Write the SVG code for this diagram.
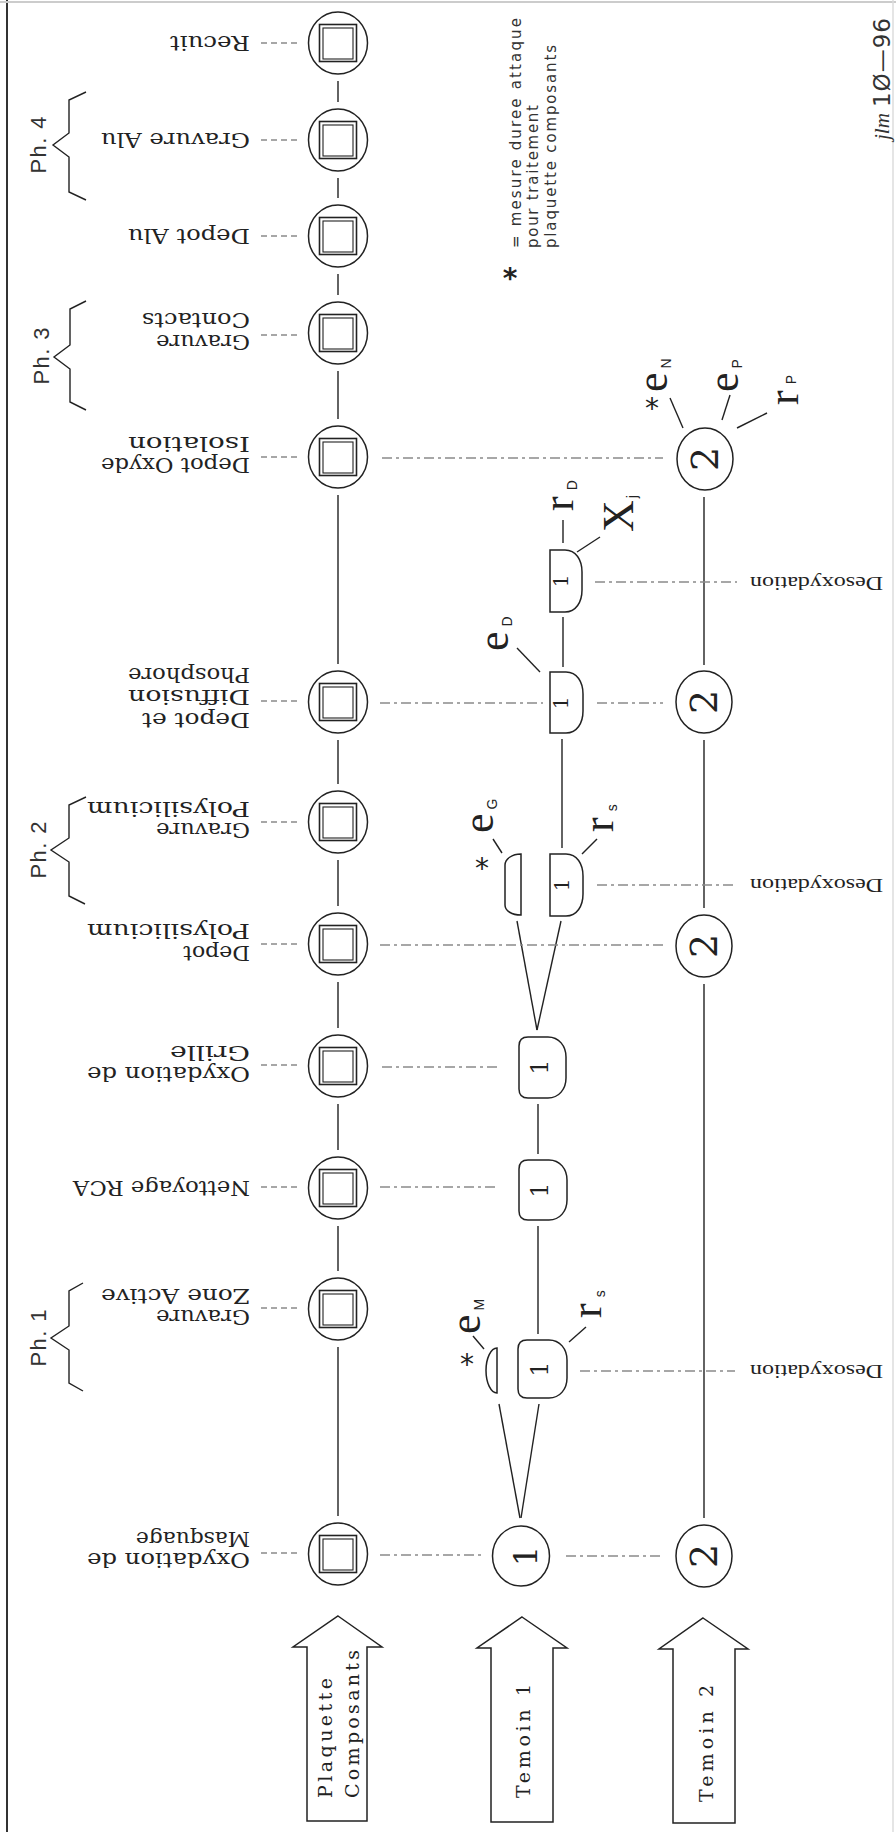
<svg xmlns="http://www.w3.org/2000/svg" width="896" height="1832" viewBox="0 0 896 1832">
<style>
.ln{stroke:#222;stroke-width:1.4;fill:none}
.dd{stroke:#8a8a8a;stroke-width:1.6;fill:none;stroke-dasharray:10 4 3 4}
.sd{stroke:#8a8a8a;stroke-width:1.6;fill:none;stroke-dasharray:6 4}
.nd{fill:#fff;stroke:#222;stroke-width:1.5}
.lbl{font-family:"DejaVu Serif",serif;font-size:20px;fill:#222}
.dsx{font-family:"Liberation Serif",serif;font-size:18px;fill:#222}
.arr{font-family:"DejaVu Serif",serif;font-size:19px;fill:#222}
.num{font-family:"DejaVu Serif",serif;fill:#222;text-anchor:middle}
.sym{font-family:"Liberation Serif",serif;font-size:44px;fill:#222}
.sub{font-family:"Liberation Sans",sans-serif;font-size:14px}
.ph{font-family:"Liberation Sans",sans-serif;font-size:22px;fill:#333;text-anchor:middle}
.ast{font-family:"DejaVu Sans",sans-serif;font-size:28px;fill:#222;text-anchor:middle}
.fn{font-family:"DejaVu Sans",sans-serif;font-size:15px;fill:#333}
</style>
<defs>
<g id="plq">
<ellipse rx="29.5" ry="31" class="nd"/>
<rect x="-18.5" y="-18.5" width="37" height="37" fill="none" stroke="#222" stroke-width="1.6"/>
<rect x="-15" y="-15" width="30" height="31" fill="none" stroke="#222" stroke-width="1.1"/>
</g>
</defs>
<rect width="896" height="1832" fill="#fff"/>
<g id="frame">
<line x1="7" y1="0" x2="7" y2="1832" stroke="#333" stroke-width="2"/>
<line x1="0" y1="2" x2="896" y2="2" stroke="#ccc" stroke-width="2"/>
<line x1="893" y1="0" x2="893" y2="1832" stroke="#ddd" stroke-width="1.5"/>
</g>

<g id="connectors">
<line class="ln" x1="338" y1="81" x2="338" y2="102"/>
<line class="ln" x1="338" y1="178" x2="338" y2="198"/>
<line class="ln" x1="338" y1="274" x2="338" y2="295"/>
<line class="ln" x1="338" y1="371" x2="338" y2="419"/>
<line class="ln" x1="338" y1="495" x2="338" y2="664"/>
<line class="ln" x1="338" y1="740" x2="338" y2="784"/>
<line class="ln" x1="338" y1="860" x2="338" y2="906"/>
<line class="ln" x1="338" y1="982" x2="338" y2="1028"/>
<line class="ln" x1="338" y1="1104" x2="338" y2="1150"/>
<line class="ln" x1="338" y1="1226" x2="338" y2="1271"/>
<line class="ln" x1="338" y1="1347" x2="338" y2="1516"/>
<line class="ln" x1="499" y1="1404" x2="520" y2="1518"/>
<line class="ln" x1="539" y1="1404" x2="521" y2="1518"/>
<line class="ln" x1="538" y1="1226" x2="538" y2="1334"/>
<line class="ln" x1="538" y1="1104" x2="538" y2="1154"/>
<line class="ln" x1="517" y1="921" x2="537" y2="1030"/>
<line class="ln" x1="561" y1="921" x2="537" y2="1030"/>
<line class="ln" x1="562" y1="739" x2="562" y2="848"/>
<line class="ln" x1="563" y1="617" x2="563" y2="667"/>
<line class="ln" x1="704" y1="984" x2="704" y2="1518"/>
<line class="ln" x1="704" y1="740" x2="704" y2="908"/>
<line class="ln" x1="704" y1="497" x2="704" y2="665"/>
<line class="dd" x1="380" y1="1555" x2="482" y2="1555"/>
<line class="dd" x1="566" y1="1556" x2="664" y2="1556"/>
<line class="dd" x1="380" y1="1187" x2="497" y2="1187"/>
<line class="dd" x1="382" y1="1067" x2="497" y2="1067"/>
<line class="dd" x1="380" y1="945" x2="664" y2="945"/>
<line class="dd" x1="380" y1="703" x2="543" y2="703"/>
<line class="dd" x1="597" y1="703" x2="663" y2="703"/>
<line class="dd" x1="382" y1="458" x2="663" y2="458"/>
<line class="dd" x1="580" y1="1371" x2="735" y2="1371"/>
<line class="dd" x1="597" y1="885" x2="737" y2="885"/>
<line class="dd" x1="595" y1="582" x2="737" y2="582"/>
<line class="sd" x1="261" y1="43" x2="298" y2="43"/>
<line class="sd" x1="261" y1="140" x2="298" y2="140"/>
<line class="sd" x1="261" y1="236" x2="298" y2="236"/>
<line class="sd" x1="261" y1="335" x2="298" y2="335"/>
<line class="sd" x1="261" y1="457" x2="298" y2="457"/>
<line class="sd" x1="261" y1="701" x2="298" y2="701"/>
<line class="sd" x1="261" y1="822" x2="298" y2="822"/>
<line class="sd" x1="261" y1="944" x2="298" y2="944"/>
<line class="sd" x1="261" y1="1065" x2="298" y2="1065"/>
<line class="sd" x1="261" y1="1187" x2="298" y2="1187"/>
<line class="sd" x1="261" y1="1308" x2="298" y2="1308"/>
<line class="sd" x1="261" y1="1553" x2="298" y2="1553"/>
<line class="ln" x1="473" y1="1336" x2="484" y2="1349"/>
<line class="ln" x1="569" y1="1342" x2="586" y2="1327"/>
<line class="ln" x1="493" y1="839" x2="502" y2="853"/>
<line class="ln" x1="582" y1="854" x2="597" y2="839"/>
<line class="ln" x1="540" y1="672" x2="517" y2="648"/>
<line class="ln" x1="563" y1="520" x2="563" y2="543"/>
<line class="ln" x1="577" y1="552" x2="600" y2="537"/>
<line class="ln" x1="683" y1="428" x2="670" y2="398"/>
<line class="ln" x1="722" y1="420" x2="730" y2="395"/>
<line class="ln" x1="737" y1="428" x2="767" y2="413"/>
</g>

<g id="ph4">
<path class="ln" d="M86,92 L69,100 L69,133 L53,145 L69,157 L69,192 L86,200"/>
<text class="ph" transform="translate(46,145) rotate(-90)" textLength="57">Ph. 4</text>
</g>
<g id="ph3">
<path class="ln" d="M86,301 L70,309 L70,345 L54,357 L70,369 L70,402 L86,410"/>
<text class="ph" transform="translate(49,356) rotate(-90)" textLength="57">Ph. 3</text>
</g>
<g id="ph2">
<path class="ln" d="M86,797 L69,805 L69,838 L51,850 L69,862 L69,896 L85,904"/>
<text class="ph" transform="translate(46,850) rotate(-90)" textLength="57">Ph. 2</text>
</g>
<g id="ph1">
<path class="ln" d="M83,1283 L69,1291 L69,1326 L51,1338 L69,1350 L69,1383 L83,1391"/>
<text class="ph" transform="translate(46,1338) rotate(-90)" textLength="57">Ph. 1</text>
</g>

<g id="n-recuit"><use href="#plq" x="338" y="43"/>
<text class="lbl" transform="translate(250,36) rotate(180)" textLength="80" lengthAdjust="spacingAndGlyphs">Recuit</text></g>
<g id="n-gravure-alu"><use href="#plq" x="338" y="140"/>
<text class="lbl" transform="translate(250,133) rotate(180)" textLength="149" lengthAdjust="spacingAndGlyphs">Gravure Alu</text></g>
<g id="n-depot-alu"><use href="#plq" x="338" y="236"/>
<text class="lbl" transform="translate(250,229) rotate(180)" textLength="122" lengthAdjust="spacingAndGlyphs">Depot Alu</text></g>
<g id="n-gravure-contacts"><use href="#plq" x="338" y="333"/>
<text class="lbl" transform="translate(250,335) rotate(180)" textLength="94" lengthAdjust="spacingAndGlyphs">Gravure</text>
<text class="lbl" transform="translate(250,313) rotate(180)" textLength="108" lengthAdjust="spacingAndGlyphs">Contacts</text></g>
<g id="n-depot-oxyde"><use href="#plq" x="338" y="457"/>
<text class="lbl" transform="translate(250,458) rotate(180)" textLength="149" lengthAdjust="spacingAndGlyphs">Depot Oxyde</text>
<text class="lbl" transform="translate(250,437) rotate(180)" textLength="122" lengthAdjust="spacingAndGlyphs">Isolation</text></g>
<g id="n-depot-diffusion"><use href="#plq" x="338" y="702"/>
<text class="lbl" transform="translate(250,713) rotate(180)" textLength="108" lengthAdjust="spacingAndGlyphs">Depot et</text>
<text class="lbl" transform="translate(250,690) rotate(180)" textLength="122" lengthAdjust="spacingAndGlyphs">Diffusion</text>
<text class="lbl" transform="translate(250,668) rotate(180)" textLength="122" lengthAdjust="spacingAndGlyphs">Phosphore</text></g>
<g id="n-gravure-poly"><use href="#plq" x="338" y="822"/>
<text class="lbl" transform="translate(250,823) rotate(180)" textLength="94" lengthAdjust="spacingAndGlyphs">Gravure</text>
<text class="lbl" transform="translate(250,802) rotate(180)" textLength="163" lengthAdjust="spacingAndGlyphs">Polysilicium</text></g>
<g id="n-depot-poly"><use href="#plq" x="338" y="944"/>
<text class="lbl" transform="translate(250,946) rotate(180)" textLength="67" lengthAdjust="spacingAndGlyphs">Depot</text>
<text class="lbl" transform="translate(250,924) rotate(180)" textLength="163" lengthAdjust="spacingAndGlyphs">Polysilicium</text></g>
<g id="n-oxydation-grille"><use href="#plq" x="338" y="1066"/>
<text class="lbl" transform="translate(250,1067) rotate(180)" textLength="163" lengthAdjust="spacingAndGlyphs">Oxydation de</text>
<text class="lbl" transform="translate(250,1046) rotate(180)" textLength="80" lengthAdjust="spacingAndGlyphs">Grille</text></g>
<g id="n-nettoyage"><use href="#plq" x="338" y="1188"/>
<text class="lbl" transform="translate(250,1181) rotate(180)" textLength="177" lengthAdjust="spacingAndGlyphs">Nettoyage RCA</text></g>
<g id="n-gravure-zone"><use href="#plq" x="338" y="1309"/>
<text class="lbl" transform="translate(250,1310) rotate(180)" textLength="94" lengthAdjust="spacingAndGlyphs">Gravure</text>
<text class="lbl" transform="translate(250,1289) rotate(180)" textLength="149" lengthAdjust="spacingAndGlyphs">Zone Active</text></g>
<g id="n-oxydation-masquage"><use href="#plq" x="338" y="1554"/>
<text class="lbl" transform="translate(250,1553) rotate(180)" textLength="163" lengthAdjust="spacingAndGlyphs">Oxydation de</text>
<text class="lbl" transform="translate(250,1532) rotate(180)" textLength="114" lengthAdjust="spacingAndGlyphs">Masquage</text></g>

<g id="t1-masquage">
<ellipse class="nd" cx="521" cy="1556" rx="28.5" ry="30"/>
<text class="num" font-size="32" transform="translate(537,1556) rotate(-90)">1</text></g>
<g id="t1-gravure-zone">
<path class="nd" d="M527,1340 H549 C560,1340 567,1349 567,1360 V1378 C567,1389 560,1398 549,1398 H527 C521,1398 518,1395 518,1389 V1349 C518,1343 521,1340 527,1340 Z"/>
<text class="num" font-size="24" transform="translate(548,1369) rotate(-90)">1</text>
<path class="nd" d="M497,1348 A11 22.5 0 0 0 497,1393 Z"/>
<text class="ast" x="467" y="1374">*</text>
<text class="sym" transform="translate(480,1334) rotate(-90)">e<tspan class="sub" dx="4" dy="4">M</tspan></text>
<text class="sym" transform="translate(601,1318) rotate(-90)">r<tspan class="sub" font-size="16" dx="6" dy="4">s</tspan></text></g>
<g id="t1-nettoyage">
<path class="nd" d="M528,1160 H549 C560,1160 567,1169 567,1180 V1200 C567,1211 560,1220 549,1220 H528 C522,1220 519,1217 519,1211 V1169 C519,1163 522,1160 528,1160 Z"/>
<text class="num" font-size="24" transform="translate(548,1190) rotate(-90)">1</text></g>
<g id="t1-grille">
<path class="nd" d="M528,1037 H548 C559,1037 566,1046 566,1057 V1078 C566,1089 559,1098 548,1098 H528 C522,1098 519,1095 519,1089 V1046 C519,1040 522,1037 528,1037 Z"/>
<text class="num" font-size="24" transform="translate(548,1067) rotate(-90)">1</text></g>
<g id="t1-gravure-poly">
<path class="nd" d="M550,854 H566 C577,854 583,864 583,876 V894 C583,906 577,916 566,916 H550 Z"/>
<text class="num" font-size="20" transform="translate(569,885) rotate(-90)">1</text>
<path class="nd" d="M521,854 V915 C512,915 505,911 505,905 V865 C505,859 512,854 521,854 Z"/>
<text class="ast" x="482" y="878">*</text>
<text class="sym" transform="translate(493,833) rotate(-90)">e<tspan class="sub" dx="4" dy="4">G</tspan></text>
<text class="sym" transform="translate(613,832) rotate(-90)">r<tspan class="sub" font-size="16" dx="6" dy="4">s</tspan></text></g>
<g id="t1-depot-diffusion">
<path class="nd" d="M550,672 H566 C577,672 583,682 583,694 V711 C583,723 577,733 566,733 H550 Z"/>
<text class="num" font-size="20" transform="translate(568,703) rotate(-90)">1</text>
<text class="sym" transform="translate(508,651) rotate(-90)">e<tspan class="sub" dx="5" dy="4">D</tspan></text></g>
<g id="t1-desoxydation">
<path class="nd" d="M550,550 H565 C576,550 582,560 582,572 V590 C582,602 576,612 565,612 H550 Z"/>
<text class="num" font-size="20" transform="translate(568,581) rotate(-90)">1</text>
<text class="sym" transform="translate(573,511) rotate(-90)">r<tspan class="sub" dx="6" dy="4">D</tspan></text>
<text class="sym" font-size="36" transform="translate(633,532) rotate(-90)">X<tspan class="sub" dx="2" dy="4">j</tspan></text></g>

<g id="t2-masquage">
<ellipse class="nd" cx="704" cy="1556" rx="28" ry="31"/>
<text class="num" font-size="38" transform="translate(717,1556) rotate(-90)">2</text></g>
<g id="t2-depot-poly">
<ellipse class="nd" cx="704" cy="946" rx="28" ry="31"/>
<text class="num" font-size="38" transform="translate(717,946) rotate(-90)">2</text></g>
<g id="t2-depot-diffusion">
<ellipse class="nd" cx="704" cy="702" rx="28" ry="31"/>
<text class="num" font-size="38" transform="translate(717,702) rotate(-90)">2</text></g>
<g id="t2-depot-oxyde">
<ellipse class="nd" cx="705" cy="459" rx="28" ry="31"/>
<text class="num" font-size="38" transform="translate(718,459) rotate(-90)">2</text>
<text class="ast" x="652" y="418">*</text>
<text class="sym" transform="translate(667,392) rotate(-90)">e<tspan class="sub" dx="4" dy="4">N</tspan></text>
<text class="sym" transform="translate(738,392) rotate(-90)">e<tspan class="sub" dx="4" dy="4">P</tspan></text>
<text class="sym" transform="translate(798,405) rotate(-90)">r<tspan class="sub" dx="6" dy="-2">P</tspan></text></g>

<g id="desox-1"><text class="dsx" transform="translate(883,1365) rotate(180)" textLength="133" lengthAdjust="spacingAndGlyphs">Desoxydation</text></g>
<g id="desox-2"><text class="dsx" transform="translate(883,879) rotate(180)" textLength="133" lengthAdjust="spacingAndGlyphs">Desoxydation</text></g>
<g id="desox-3"><text class="dsx" transform="translate(883,577) rotate(180)" textLength="133" lengthAdjust="spacingAndGlyphs">Desoxydation</text></g>

<g id="a-plaquette">
<path class="nd" d="M338,1616 L382,1647 L367,1647 L367,1821 L307,1821 L307,1647 L293,1647 Z"/>
<text class="arr" transform="translate(332,1798) rotate(-90)" textLength="120" lengthAdjust="spacing">Plaquette</text>
<text class="arr" transform="translate(359,1798) rotate(-90)" textLength="148" lengthAdjust="spacing">Composants</text></g>
<g id="a-temoin1">
<path class="nd" d="M522,1617 L567,1648 L553,1648 L553,1822 L491,1822 L491,1648 L477,1648 Z"/>
<text class="arr" transform="translate(530,1798) rotate(-90)" textLength="114" lengthAdjust="spacing">Temoin 1</text></g>
<g id="a-temoin2">
<path class="nd" d="M703,1618 L748,1649 L735,1649 L735,1823 L673,1823 L673,1649 L659,1649 Z"/>
<text class="arr" transform="translate(713,1802) rotate(-90)" textLength="117" lengthAdjust="spacing">Temoin 2</text></g>

<g id="footnote">
<text class="ast" font-size="34" font-weight="bold" x="510" y="288">*</text>
<text class="fn" transform="translate(521,248) rotate(-90)" textLength="230" lengthAdjust="spacing">= mesure duree attaque</text>
<text class="fn" transform="translate(538,248) rotate(-90)" textLength="143" lengthAdjust="spacing">pour traitement</text>
<text class="fn" transform="translate(556,248) rotate(-90)" textLength="203" lengthAdjust="spacing">plaquette composants</text>
</g>
<g id="signature">
<text transform="translate(889,140) rotate(-90)" font-family="Liberation Serif, serif" font-style="italic" font-size="22" fill="#333" textLength="27" lengthAdjust="spacingAndGlyphs">jlm</text>
<text transform="translate(890,107) rotate(-90)" font-family="DejaVu Sans, sans-serif" font-size="23" fill="#333" textLength="89" lengthAdjust="spacing">1Ø—96</text>
</g>
</svg>
